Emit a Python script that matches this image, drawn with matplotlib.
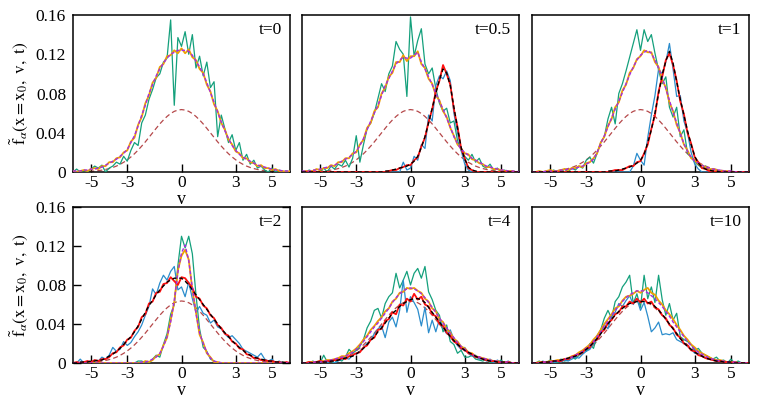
import numpy as np
import matplotlib
matplotlib.use('Agg')
import matplotlib.pyplot as plt

plt.rcParams['font.family'] = ['Liberation Serif', 'DejaVu Serif']
plt.rcParams['mathtext.fontset'] = 'stix'
plt.rcParams['font.size'] = 12.5

# velocity grid (-6 ... 6, step 0.2, 61 points)
v = np.linspace(-6, 6, 61)

# equilibrium Gaussian (brown dashed, same in every panel)
eq = [0.0001,0.0001,0.0002,0.0003,0.0005,0.0007,0.0010,0.0014,0.0019,0.0026,
      0.0035,0.0046,0.0060,0.0078,0.0099,0.0124,0.0153,0.0186,0.0223,0.0264,
      0.0307,0.0353,0.0399,0.0445,0.0490,0.0530,0.0566,0.0596,0.0618,0.0631,
      0.0636,
      0.0631,0.0618,0.0596,0.0566,0.0530,0.0490,0.0445,0.0399,0.0353,0.0307,
      0.0264,0.0223,0.0186,0.0153,0.0124,0.0099,0.0078,0.0060,0.0046,0.0035,
      0.0026,0.0019,0.0014,0.0010,0.0007,0.0005,0.0003,0.0002,0.0001,0.0001]

Z10 = [0.0]*10

# ---------------- t = 0 ----------------
p0 = [0.001,0.001,0.001,0.002,0.002,0.003,0.003,0.004,0.005,0.007,
      0.009,0.011,0.013,0.016,0.019,0.023,0.030,0.037,0.047,0.058,
      0.068,0.080,0.089,0.098,0.105,0.111,0.116,0.120,0.122,0.124,
      0.124,
      0.124,0.123,0.119,0.113,0.107,0.100,0.091,0.081,0.071,0.061,
      0.051,0.042,0.034,0.027,0.022,0.018,0.015,0.013,0.011,0.009,
      0.007,0.006,0.005,0.004,0.003,0.002,0.002,0.001,0.001,0.001]
o0 = [0.001,0.000,0.001,0.002,0.001,0.003,0.004,0.003,0.006,0.006,
      0.010,0.010,0.014,0.015,0.020,0.022,0.031,0.035,0.048,0.056,
      0.070,0.078,0.091,0.096,0.107,0.110,0.118,0.119,0.124,0.121,
      0.126,
      0.121,0.125,0.117,0.114,0.105,0.101,0.089,0.082,0.069,0.062,
      0.050,0.043,0.033,0.028,0.021,0.019,0.014,0.014,0.010,0.009,
      0.006,0.007,0.004,0.004,0.002,0.003,0.001,0.001,0.000,0.001]
g0 = [0.000,0.003,0.000,0.000,0.000,0.003,0.006,0.004,0.007,0.000,
      0.004,0.006,0.010,0.008,0.016,0.011,0.022,0.030,0.027,0.050,
      0.058,0.074,0.084,0.096,0.100,0.112,0.116,0.155,0.068,0.137,
      0.128,
      0.143,0.120,0.140,0.106,0.118,0.098,0.112,0.086,0.092,0.036,
      0.058,0.044,0.030,0.038,0.022,0.030,0.012,0.018,0.008,0.012,
      0.004,0.006,0.002,0.000,0.004,0.000,0.002,0.000,0.001,0.000]

# ---------------- t = 0.5 ----------------
p05 = [0.001,0.001,0.001,0.002,0.002,0.003,0.004,0.005,0.006,0.007,
       0.009,0.011,0.013,0.015,0.018,0.021,0.027,0.034,0.043,0.052,
       0.060,0.068,0.078,0.088,0.095,0.103,0.110,0.114,0.117,0.116,
       0.116,
       0.119,0.122,0.112,0.105,0.097,0.089,0.080,0.072,0.064,0.055,
       0.046,0.036,0.029,0.023,0.020,0.017,0.014,0.012,0.010,0.008,
       0.006,0.005,0.004,0.003,0.002,0.002,0.001,0.001,0.001,0.000]
o05 = [0.000,0.001,0.001,0.001,0.003,0.002,0.004,0.004,0.007,0.006,
       0.010,0.010,0.014,0.014,0.019,0.020,0.028,0.033,0.045,0.050,
       0.062,0.066,0.080,0.086,0.097,0.101,0.112,0.112,0.119,0.113,
       0.118,
       0.118,0.123,0.110,0.106,0.095,0.090,0.078,0.073,0.062,0.056,
       0.045,0.037,0.028,0.024,0.019,0.018,0.013,0.012,0.009,0.008,
       0.005,0.005,0.003,0.003,0.002,0.001,0.001,0.001,0.000,0.000]
g05 = [0.000,0.000,0.002,0.000,0.000,0.000,0.004,0.000,0.006,0.003,
       0.008,0.006,0.012,0.005,0.014,0.037,0.010,0.028,0.044,0.050,
       0.060,0.075,0.090,0.082,0.100,0.108,0.133,0.125,0.120,0.077,
       0.158,
       0.118,0.134,0.146,0.110,0.100,0.106,0.085,0.070,0.062,0.065,
       0.050,0.052,0.032,0.022,0.016,0.012,0.018,0.010,0.014,0.006,
       0.004,0.008,0.002,0.004,0.000,0.002,0.000,0.001,0.000,0.000]
k05 = Z10 + Z10 + [0.000,0.000,0.000,0.001,0.001,0.002,0.003,0.004,0.005,0.006,
       0.008,
       0.011,0.016,0.025,0.036,0.050,0.065,0.080,0.094,0.105,0.101,
       0.088,0.066,0.045,0.025,0.013,0.005,0.002,0.001,0.000,0.000] + Z10
r05 = Z10 + Z10 + [0.000,0.000,0.000,0.000,0.001,0.002,0.002,0.004,0.005,0.007,
       0.007,
       0.012,0.015,0.026,0.035,0.051,0.064,0.082,0.093,0.109,0.100,
       0.089,0.064,0.046,0.024,0.014,0.004,0.002,0.000,0.000,0.000] + Z10
b05 = Z10 + Z10 + [0.000,0.000,0.000,0.000,0.000,0.000,0.000,0.000,0.010,0.002,
       0.004,
       0.016,0.012,0.028,0.024,0.058,0.052,0.088,0.098,0.095,0.103,
       0.093,0.060,0.040,0.022,0.008,0.002,0.000,0.000,0.000,0.000] + Z10

# ---------------- t = 1 ----------------
p1 = [0.000,0.000,0.000,0.000,0.001,0.001,0.001,0.001,0.002,0.002,
      0.003,0.003,0.004,0.005,0.006,0.008,0.010,0.013,0.020,0.029,
      0.037,0.046,0.055,0.064,0.072,0.081,0.090,0.099,0.107,0.114,
      0.119,
      0.122,0.124,0.121,0.114,0.106,0.096,0.085,0.073,0.061,0.050,
      0.039,0.029,0.021,0.015,0.011,0.009,0.007,0.005,0.004,0.003,
      0.002,0.002,0.001,0.001,0.001,0.000,0.000,0.000,0.000,0.000]
o1 = [0.000,0.000,0.001,0.000,0.001,0.002,0.001,0.001,0.002,0.003,
      0.002,0.004,0.004,0.006,0.005,0.009,0.010,0.014,0.019,0.030,
      0.036,0.047,0.054,0.066,0.071,0.083,0.089,0.101,0.106,0.115,
      0.118,
      0.124,0.122,0.122,0.112,0.107,0.094,0.086,0.071,0.062,0.048,
      0.040,0.028,0.022,0.014,0.012,0.008,0.007,0.005,0.003,0.003,
      0.002,0.001,0.001,0.001,0.000,0.000,0.000,0.000,0.000,0.000]
g1 = [0.000,0.000,0.000,0.000,0.000,0.000,0.002,0.000,0.000,0.003,
      0.000,0.004,0.002,0.006,0.004,0.012,0.015,0.009,0.019,0.030,
      0.036,0.054,0.066,0.049,0.080,0.090,0.103,0.117,0.131,0.145,
      0.124,
      0.145,0.133,0.140,0.121,0.104,0.090,0.097,0.066,0.056,0.066,
      0.036,0.043,0.019,0.015,0.010,0.007,0.004,0.006,0.002,0.000,
      0.001,0.000,0.000,0.000,0.000,0.000,0.000,0.000,0.000,0.000]
k1 = Z10 + Z10 + [0.000,0.001,0.001,0.001,0.002,0.003,0.004,0.005,0.007,0.009,
      0.012,
      0.018,0.030,0.043,0.060,0.080,0.099,0.113,0.123,0.111,0.092,
      0.074,0.058,0.042,0.028,0.016,0.009,0.005,0.003,0.002,0.001,
      0.001,0.000,0.000,0.000,0.000,0.000,0.000,0.000,0.000,0.000]
r1 = Z10 + Z10 + [0.000,0.000,0.001,0.002,0.002,0.002,0.004,0.006,0.006,0.010,
      0.011,
      0.019,0.028,0.044,0.058,0.082,0.097,0.114,0.121,0.109,0.093,
      0.072,0.059,0.040,0.029,0.015,0.010,0.004,0.003,0.001,0.001] + Z10
b1 = Z10 + Z10 + [0.000,0.000,0.000,0.000,0.000,0.000,0.000,0.000,0.006,0.019,
      0.012,
      0.007,0.035,0.058,0.078,0.105,0.100,0.112,0.131,0.105,0.077,
      0.078,0.052,0.040,0.020,0.008,0.003,0.000,0.000,0.000,0.000] + Z10

# ---------------- t = 2 ----------------
p2 = [0.0]*19 + [0.001,0.001,0.002,0.004,0.006,0.010,0.017,0.027,0.042,0.064,0.093,
                 0.113,0.121,0.105,0.077,0.051,0.031,0.020,0.011,0.005,0.002,0.001] + [0.0]*20
o2 = [0.0]*19 + [0.000,0.002,0.001,0.003,0.007,0.009,0.018,0.026,0.044,0.062,0.095,
                 0.110,0.116,0.106,0.075,0.052,0.029,0.021,0.010,0.006,0.001,0.001] + [0.0]*20
g2 = [0.0]*18 + [0.002,0.002,0.000,0.000,0.004,0.008,0.006,0.019,0.030,0.050,0.060,0.100,
                 0.130,0.118,0.130,0.112,0.070,0.035,0.016,0.012,0.004,0.002,0.000] + [0.0]*20
k2 = [0.000,0.000,0.001,0.001,0.001,0.002,0.002,0.003,0.003,0.005,
      0.007,0.009,0.012,0.015,0.019,0.023,0.027,0.032,0.038,0.045,
      0.052,0.059,0.064,0.070,0.075,0.079,0.083,0.085,0.087,0.087,
      0.087,
      0.084,0.080,0.075,0.070,0.065,0.060,0.055,0.050,0.045,0.040,
      0.035,0.031,0.027,0.023,0.019,0.016,0.013,0.010,0.008,0.006,
      0.005,0.004,0.003,0.002,0.002,0.001,0.001,0.001,0.000,0.000]
r2 = [0.000,0.001,0.000,0.001,0.002,0.001,0.003,0.002,0.004,0.004,
      0.006,0.010,0.011,0.016,0.018,0.024,0.026,0.033,0.037,0.047,
      0.050,0.061,0.063,0.072,0.073,0.081,0.082,0.088,0.084,0.080,
      0.088,
      0.087,0.082,0.077,0.068,0.066,0.059,0.056,0.049,0.046,0.039,
      0.036,0.030,0.028,0.022,0.020,0.015,0.014,0.009,0.008,0.005,
      0.005,0.003,0.003,0.002,0.002,0.001,0.001,0.000,0.001,0.000]
b2 = [0.000,0.000,0.004,0.000,0.002,0.000,0.003,0.002,0.006,0.004,
      0.008,0.016,0.012,0.014,0.022,0.018,0.021,0.027,0.032,0.039,
      0.049,0.058,0.076,0.070,0.082,0.090,0.085,0.094,0.099,0.075,
      0.078,
      0.068,0.083,0.066,0.052,0.058,0.051,0.049,0.041,0.044,0.037,
      0.035,0.030,0.026,0.028,0.024,0.020,0.014,0.012,0.010,0.008,
      0.006,0.010,0.004,0.002,0.004,0.000,0.002,0.000,0.000,0.000]

# ---------------- t = 4 ----------------
p4 = [0.000,0.000,0.000,0.001,0.001,0.001,0.002,0.002,0.003,0.004,
      0.005,0.006,0.007,0.009,0.011,0.014,0.018,0.022,0.027,0.032,
      0.037,0.041,0.046,0.051,0.056,0.062,0.067,0.071,0.074,0.076,
      0.077,
      0.076,0.074,0.071,0.067,0.062,0.057,0.052,0.046,0.041,0.036,
      0.030,0.026,0.021,0.017,0.014,0.011,0.009,0.007,0.006,0.005,
      0.004,0.003,0.002,0.002,0.001,0.001,0.001,0.000,0.000,0.000]
o4 = [0.000,0.000,0.001,0.001,0.001,0.002,0.002,0.003,0.003,0.004,
      0.005,0.007,0.007,0.010,0.012,0.015,0.019,0.024,0.028,0.034,
      0.038,0.043,0.047,0.053,0.056,0.063,0.066,0.072,0.073,0.077,
      0.076,
      0.077,0.074,0.072,0.066,0.063,0.056,0.053,0.045,0.042,0.035,
      0.031,0.025,0.022,0.017,0.015,0.011,0.010,0.007,0.006,0.005,
      0.004,0.003,0.002,0.002,0.001,0.001,0.001,0.000,0.000,0.000]
g4 = [0.000,0.000,0.000,0.002,0.000,0.000,0.008,0.001,0.002,0.000,
      0.004,0.002,0.006,0.014,0.010,0.013,0.017,0.024,0.036,0.043,
      0.054,0.056,0.046,0.061,0.068,0.072,0.092,0.077,0.085,0.094,
      0.080,
      0.092,0.097,0.087,0.099,0.073,0.065,0.054,0.049,0.032,0.039,
      0.022,0.019,0.010,0.013,0.006,0.006,0.008,0.004,0.003,0.002,
      0.004,0.000,0.002,0.000,0.003,0.000,0.001,0.000,0.000,0.000]
k4 = [0.000,0.000,0.000,0.000,0.001,0.001,0.001,0.001,0.002,0.002,
      0.003,0.004,0.005,0.006,0.007,0.009,0.012,0.015,0.019,0.023,
      0.027,0.032,0.036,0.041,0.046,0.051,0.054,0.058,0.061,0.063,
      0.065,
      0.066,0.066,0.065,0.062,0.057,0.052,0.047,0.042,0.037,0.032,
      0.027,0.023,0.019,0.016,0.013,0.011,0.009,0.007,0.005,0.004,
      0.003,0.002,0.002,0.001,0.001,0.001,0.000,0.000,0.000,0.000]
r4 = [0.000,0.000,0.001,0.000,0.001,0.002,0.001,0.002,0.002,0.003,
      0.003,0.005,0.004,0.007,0.008,0.010,0.011,0.016,0.018,0.024,
      0.026,0.034,0.035,0.043,0.045,0.052,0.050,0.060,0.059,0.066,
      0.063,
      0.071,0.065,0.068,0.060,0.058,0.050,0.048,0.040,0.038,0.031,
      0.028,0.022,0.020,0.015,0.014,0.010,0.009,0.006,0.006,0.004,
      0.003,0.002,0.002,0.001,0.001,0.000,0.001,0.000,0.000,0.000]
b4 = [0.000,0.000,0.000,0.000,0.000,0.002,0.000,0.000,0.003,0.000,
      0.002,0.004,0.005,0.004,0.008,0.010,0.012,0.016,0.020,0.024,
      0.030,0.035,0.038,0.026,0.042,0.047,0.037,0.054,0.085,0.052,
      0.068,
      0.062,0.055,0.038,0.057,0.031,0.044,0.032,0.045,0.036,0.030,
      0.034,0.024,0.018,0.014,0.016,0.010,0.007,0.008,0.004,0.005,
      0.002,0.004,0.000,0.003,0.001,0.000,0.002,0.000,0.000,0.000]

# ---------------- t = 10 ----------------
p10 = [0.000,0.000,0.000,0.001,0.001,0.001,0.002,0.002,0.003,0.004,
       0.005,0.006,0.008,0.010,0.012,0.015,0.018,0.022,0.027,0.032,
       0.038,0.043,0.049,0.054,0.059,0.063,0.067,0.070,0.072,0.074,
       0.074,
       0.074,0.072,0.069,0.066,0.062,0.058,0.053,0.048,0.042,0.037,
       0.032,0.027,0.022,0.018,0.014,0.011,0.009,0.007,0.005,0.004,
       0.003,0.002,0.002,0.001,0.001,0.001,0.000,0.000,0.000,0.000]
o10 = [0.000,0.000,0.001,0.001,0.001,0.002,0.002,0.003,0.003,0.004,
       0.005,0.007,0.008,0.011,0.013,0.016,0.019,0.024,0.028,0.034,
       0.040,0.045,0.050,0.056,0.058,0.064,0.068,0.069,0.071,0.074,
       0.072,
       0.075,0.077,0.072,0.070,0.064,0.060,0.054,0.050,0.045,0.039,
       0.034,0.028,0.024,0.019,0.016,0.012,0.010,0.008,0.006,0.004,
       0.003,0.003,0.002,0.001,0.001,0.001,0.000,0.000,0.000,0.000]
g10 = [0.000,0.000,0.002,0.000,0.000,0.003,0.002,0.000,0.004,0.002,
       0.003,0.006,0.004,0.008,0.013,0.012,0.020,0.015,0.028,0.034,
       0.046,0.054,0.046,0.063,0.068,0.078,0.083,0.090,0.061,0.071,
       0.057,
       0.090,0.066,0.078,0.062,0.090,0.065,0.049,0.061,0.044,0.051,
       0.027,0.024,0.022,0.019,0.013,0.015,0.010,0.008,0.006,0.004,
       0.006,0.002,0.003,0.000,0.004,0.000,0.002,0.000,0.000,0.000]
k10 = [0.000,0.000,0.000,0.001,0.001,0.001,0.002,0.002,0.003,0.004,
       0.005,0.006,0.007,0.009,0.011,0.014,0.017,0.021,0.025,0.030,
       0.035,0.040,0.045,0.049,0.053,0.056,0.059,0.061,0.062,0.063,
       0.063,
       0.063,0.062,0.061,0.058,0.054,0.050,0.045,0.040,0.035,0.030,
       0.025,0.021,0.017,0.014,0.011,0.009,0.007,0.005,0.004,0.003,
       0.002,0.002,0.001,0.001,0.001,0.000,0.000,0.000,0.000,0.000]
r10 = [0.000,0.000,0.000,0.001,0.000,0.001,0.002,0.002,0.002,0.004,
       0.004,0.006,0.008,0.009,0.011,0.015,0.016,0.022,0.024,0.031,
       0.034,0.041,0.044,0.050,0.052,0.058,0.058,0.063,0.061,0.066,
       0.062,
       0.066,0.061,0.063,0.057,0.055,0.049,0.046,0.039,0.036,0.029,
       0.026,0.020,0.018,0.013,0.012,0.008,0.007,0.005,0.004,0.003,
       0.002,0.002,0.001,0.001,0.000,0.001,0.000,0.000,0.000,0.000]
b10 = [0.000,0.000,0.000,0.002,0.000,0.001,0.000,0.002,0.001,0.003,
       0.002,0.004,0.006,0.005,0.009,0.012,0.014,0.020,0.024,0.030,
       0.040,0.035,0.048,0.052,0.061,0.058,0.064,0.069,0.060,0.066,
       0.054,
       0.062,0.048,0.032,0.036,0.042,0.029,0.030,0.029,0.031,0.024,
       0.022,0.020,0.017,0.014,0.010,0.009,0.007,0.005,0.004,0.003,
       0.002,0.002,0.001,0.001,0.000,0.001,0.000,0.000,0.000,0.000]

labels = ['t=0', 't=0.5', 't=1', 't=2', 't=4', 't=10']
greens = [g0, g05, g1, g2, g4, g10]
oranges = [o0, o05, o1, o2, o4, o10]
purples = [p0, p05, p1, p2, p4, p10]
blues = [None, b05, b1, b2, b4, b10]
reds = [None, r05, r1, r2, r4, r10]
blacks = [None, k05, k1, k2, k4, k10]

xticks = [-5, -3, 0, 3, 5]
yticks = [0, 0.04, 0.08, 0.12, 0.16]
ytick_labels = ['0', '0.04', '0.08', '0.12', '0.16']

C_GREEN = '#14a07c'
C_ORANGE = '#eea000'
C_PURPLE = '#a52ce0'
C_BROWN = '#b5484a'
C_BLUE = '#2a8ccc'
C_RED = '#ff1010'

W, H = 763, 401
fig = plt.figure(figsize=(W / 100, H / 100), dpi=100)
lefts = [73, 302, 532]
tops = [15, 207]
bottoms = [172, 363]

for idx in range(6):
    r, c = divmod(idx, 3)
    l = lefts[c]
    ax = fig.add_axes([l / W, (H - bottoms[r]) / H, 217 / W, (bottoms[r] - tops[r]) / H])
    ax.plot(v, eq, color=C_BROWN, lw=0.9, dashes=(4, 2.5), zorder=2)
    ax.plot(v, greens[idx], color=C_GREEN, lw=0.9, zorder=3)
    if blues[idx] is not None:
        ax.plot(v, blues[idx], color=C_BLUE, lw=0.9, zorder=3)
    ax.plot(v, oranges[idx], color=C_ORANGE, lw=1.3, zorder=4)
    ax.plot(v, purples[idx], color=C_PURPLE, lw=1.0, dashes=(2.5, 1.5), zorder=5)
    if reds[idx] is not None:
        ax.plot(v, reds[idx], color=C_RED, lw=1.3, zorder=4)
        ax.plot(v, blacks[idx], color='black', lw=1.0, dashes=(3, 2), zorder=5)
    ax.set_xlim(-6, 6)
    ax.set_ylim(0, 0.16)
    ax.set_xticks(xticks)
    ax.set_xticklabels([str(t) for t in xticks])
    ax.tick_params(axis='x', direction='in', length=6, width=1, pad=2, labelsize=12.5)
    ax.set_yticks(yticks)
    if c == 0:
        ax.set_yticklabels(ytick_labels)
        ax.tick_params(axis='y', direction='in', length=0, pad=5, labelsize=12.5)
        ax.set_ylabel(r'$\tilde{\mathrm{f}}_{\alpha}(\mathrm{x{=}x}_{0}\mathrm{,\ v,\ t})$',
                      fontsize=12.5, labelpad=4)
    else:
        ax.set_yticklabels([])
        ax.tick_params(axis='y', direction='in', length=0)
    if idx == 3:
        ax.tick_params(axis='y', right=True, direction='in', length=6, width=1)
    ax.set_xlabel('v', fontsize=13, labelpad=0)
    for s in ax.spines.values():
        s.set_linewidth(1.1)
    ax.text(0.965, 0.955, labels[idx], transform=ax.transAxes, ha='right', va='top',
            fontsize=12.5)

fig.savefig('out.png', dpi=100)
